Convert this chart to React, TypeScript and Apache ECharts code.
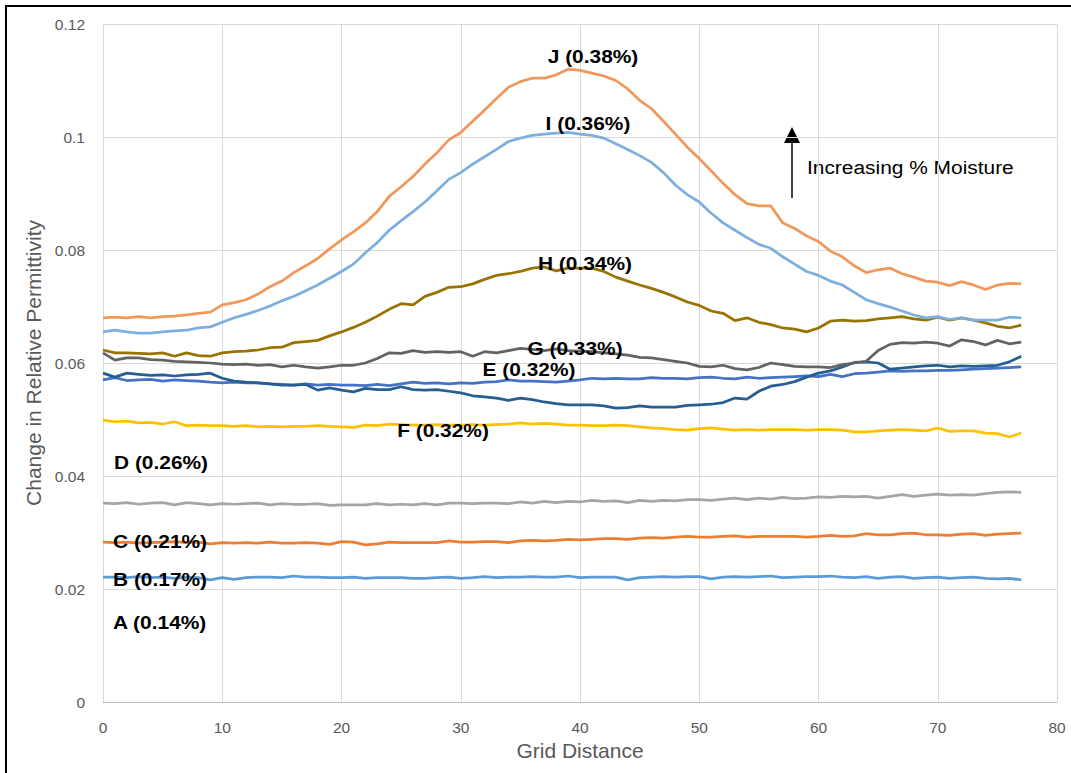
import React, { useEffect, useRef } from "react";
import * as echarts from "echarts";

const gridDistance: number[] = Array.from({ length: 78 }, (_, i) => i);

const seriesB = [0.0221,0.0221,0.022,0.0222,0.022,0.0221,0.0219,0.0221,0.022,0.0216,0.022,0.0217,0.022,0.0221,0.0221,0.022,0.0223,0.0221,0.0221,0.022,0.022,0.0221,0.0219,0.022,0.022,0.022,0.0219,0.0219,0.022,0.0221,0.0219,0.022,0.0222,0.022,0.0221,0.0221,0.0222,0.0221,0.0221,0.0223,0.022,0.0221,0.0221,0.0221,0.0216,0.022,0.0221,0.0222,0.0221,0.0222,0.0222,0.0218,0.0221,0.0222,0.0221,0.0222,0.0223,0.022,0.0221,0.0222,0.0222,0.0223,0.0221,0.022,0.0222,0.0219,0.0221,0.0222,0.0219,0.022,0.0221,0.0219,0.022,0.0221,0.0219,0.0218,0.0219,0.0216];
const seriesC = [0.0283,0.0282,0.0283,0.0281,0.0282,0.0283,0.0284,0.0282,0.0283,0.028,0.0282,0.0281,0.0282,0.0281,0.0283,0.0281,0.0281,0.0282,0.0281,0.0279,0.0284,0.0283,0.0278,0.028,0.0283,0.0282,0.0282,0.0282,0.0282,0.0285,0.0283,0.0283,0.0284,0.0284,0.0282,0.0285,0.0286,0.0285,0.0286,0.0288,0.0287,0.0288,0.0289,0.0289,0.0288,0.029,0.0291,0.029,0.0292,0.0293,0.0292,0.0292,0.0293,0.0294,0.0292,0.0293,0.0293,0.0293,0.0293,0.0292,0.0293,0.0295,0.0293,0.0294,0.0298,0.0296,0.0296,0.0298,0.0299,0.0296,0.0296,0.0295,0.0297,0.0298,0.0295,0.0297,0.0298,0.0299];
const seriesD = [0.0352,0.0351,0.0353,0.035,0.0352,0.0353,0.0349,0.0353,0.0351,0.0349,0.0351,0.035,0.0351,0.0352,0.0349,0.0351,0.035,0.035,0.0351,0.0348,0.0349,0.0349,0.0349,0.0351,0.0349,0.035,0.0349,0.0351,0.0349,0.0352,0.0352,0.0351,0.0352,0.0352,0.0351,0.0354,0.0352,0.0355,0.0353,0.0355,0.0354,0.0357,0.0355,0.0356,0.0353,0.0357,0.0355,0.0357,0.0356,0.0358,0.0358,0.0357,0.0359,0.0361,0.0358,0.0361,0.0359,0.0362,0.036,0.0361,0.0363,0.0362,0.0364,0.0363,0.0364,0.0361,0.0364,0.0367,0.0364,0.0366,0.0368,0.0366,0.0367,0.0366,0.0369,0.0371,0.0372,0.0371];
const seriesF = [0.0499,0.0496,0.0497,0.0494,0.0495,0.0492,0.0496,0.0489,0.049,0.0489,0.0489,0.0488,0.0489,0.0487,0.0488,0.0487,0.0488,0.0488,0.0489,0.0488,0.0487,0.0486,0.049,0.0489,0.0492,0.0491,0.049,0.049,0.0491,0.049,0.049,0.0491,0.049,0.0491,0.0492,0.0494,0.0492,0.0493,0.0492,0.049,0.049,0.0489,0.0489,0.049,0.0489,0.0487,0.0485,0.0484,0.0482,0.0481,0.0484,0.0485,0.0483,0.0481,0.0482,0.0481,0.0482,0.0482,0.0482,0.0481,0.0482,0.0482,0.0481,0.0478,0.0478,0.048,0.0481,0.0482,0.0481,0.048,0.0485,0.0479,0.048,0.048,0.0476,0.0475,0.0469,0.0476];
const seriesE = [0.057,0.0574,0.0569,0.057,0.0571,0.0568,0.057,0.0569,0.0568,0.0566,0.0565,0.0566,0.0565,0.0565,0.0563,0.0562,0.0561,0.0563,0.0561,0.0562,0.0561,0.0561,0.056,0.0562,0.056,0.0563,0.0566,0.0564,0.0565,0.0563,0.0565,0.0564,0.0566,0.0567,0.057,0.0568,0.0568,0.0567,0.0566,0.0568,0.057,0.0573,0.0572,0.0573,0.0572,0.0572,0.0574,0.0573,0.0573,0.0572,0.0574,0.0575,0.0573,0.0572,0.0575,0.0573,0.0574,0.0575,0.0576,0.0577,0.0576,0.058,0.0576,0.0581,0.0582,0.0584,0.0586,0.0585,0.0586,0.0586,0.0587,0.0587,0.0588,0.0589,0.059,0.0591,0.0592,0.0593];
const seriesDarkBlue = [0.0582,0.0575,0.0582,0.058,0.0578,0.0579,0.0577,0.0579,0.058,0.0582,0.0573,0.0568,0.0566,0.0565,0.0563,0.0561,0.0561,0.0562,0.0552,0.0556,0.0552,0.0549,0.0555,0.0553,0.0553,0.0558,0.0553,0.0552,0.0553,0.055,0.0547,0.0542,0.054,0.0538,0.0534,0.0538,0.0535,0.0531,0.0528,0.0526,0.0526,0.0526,0.0524,0.052,0.0521,0.0524,0.0522,0.0522,0.0522,0.0525,0.0526,0.0527,0.053,0.0538,0.0536,0.055,0.0559,0.0562,0.0567,0.0575,0.0582,0.0586,0.0593,0.0601,0.0602,0.06,0.0589,0.0591,0.0593,0.0595,0.0596,0.0593,0.0595,0.0594,0.0595,0.0596,0.0602,0.0612];
const seriesG = [0.0618,0.0605,0.0609,0.0609,0.0606,0.0605,0.0603,0.0602,0.0601,0.06,0.0598,0.0597,0.0598,0.0596,0.0597,0.0593,0.0596,0.0593,0.0591,0.0593,0.0596,0.0596,0.06,0.0608,0.0618,0.0617,0.0622,0.0619,0.062,0.0619,0.062,0.0612,0.062,0.0618,0.0622,0.0626,0.0624,0.0622,0.0625,0.0622,0.0621,0.062,0.0618,0.0616,0.0614,0.061,0.0609,0.0606,0.0603,0.06,0.0594,0.0593,0.0596,0.059,0.0588,0.0592,0.06,0.0597,0.0594,0.0593,0.0593,0.0592,0.0597,0.06,0.0603,0.0622,0.0633,0.0636,0.0635,0.0637,0.0635,0.063,0.0641,0.0638,0.0632,0.064,0.0634,0.0637];
const seriesH = [0.0623,0.0618,0.0618,0.0617,0.0616,0.0618,0.0612,0.0618,0.0613,0.0612,0.0618,0.062,0.0621,0.0623,0.0627,0.0628,0.0636,0.0638,0.064,0.0648,0.0655,0.0663,0.0672,0.0683,0.0695,0.0705,0.0703,0.0718,0.0725,0.0734,0.0735,0.074,0.0748,0.0755,0.0758,0.0762,0.0768,0.077,0.0763,0.0768,0.0768,0.0768,0.0762,0.0752,0.0745,0.0738,0.0732,0.0725,0.0717,0.0708,0.0702,0.0692,0.0688,0.0675,0.068,0.0672,0.0668,0.0662,0.066,0.0655,0.0662,0.0674,0.0676,0.0674,0.0675,0.0678,0.068,0.0682,0.0678,0.0676,0.0681,0.0676,0.068,0.0676,0.0671,0.0665,0.0662,0.0667];
const seriesI = [0.0655,0.0658,0.0655,0.0653,0.0653,0.0655,0.0657,0.0658,0.0662,0.0664,0.0672,0.068,0.0686,0.0693,0.0701,0.071,0.0718,0.0728,0.0738,0.075,0.0762,0.0775,0.0795,0.0813,0.0835,0.0852,0.0868,0.0885,0.0905,0.0925,0.0937,0.0952,0.0965,0.0978,0.0992,0.0998,0.1003,0.1005,0.1007,0.1008,0.1005,0.1003,0.0998,0.0988,0.0978,0.0967,0.0955,0.0937,0.0915,0.0898,0.0885,0.0865,0.0848,0.0835,0.0822,0.081,0.0803,0.0788,0.0775,0.0762,0.0755,0.0745,0.0738,0.0725,0.0712,0.0705,0.0699,0.0692,0.0685,0.068,0.0682,0.0677,0.068,0.0676,0.0676,0.0676,0.0681,0.068];
const seriesJ = [0.068,0.0681,0.068,0.0682,0.068,0.0682,0.0683,0.0685,0.0688,0.069,0.0703,0.0707,0.0712,0.0722,0.0735,0.0745,0.076,0.0772,0.0785,0.0802,0.0818,0.0832,0.0848,0.0868,0.0895,0.0912,0.093,0.0952,0.0972,0.0995,0.1008,0.1028,0.1048,0.1068,0.1088,0.1098,0.1104,0.1104,0.111,0.112,0.1118,0.1113,0.1108,0.11,0.1085,0.1065,0.105,0.1028,0.1005,0.0982,0.0962,0.094,0.0918,0.0898,0.0882,0.0878,0.0878,0.0848,0.0838,0.0825,0.0815,0.0798,0.0788,0.0772,0.076,0.0765,0.0768,0.0758,0.0752,0.0745,0.0743,0.0737,0.0744,0.0738,0.073,0.0738,0.0741,0.074];

const seriesNames = ["B", "C", "D", "F", "E", "E2", "G", "H", "I", "J"];
const seriesValues = [seriesB, seriesC, seriesD, seriesF, seriesE, seriesDarkBlue, seriesG, seriesH, seriesI, seriesJ];
const seriesColors = ["#5B9BD5", "#ED7D31", "#A5A5A5", "#FFC000", "#4472C4", "#255E91", "#636363", "#997300", "#7CAFDD", "#F1975A"];

const curveLabels = ["J (0.38%)", "I (0.36%)", "H (0.34%)", "G (0.33%)", "E (0.32%)", "F (0.32%)", "D (0.26%)", "C (0.21%)", "B (0.17%)", "A (0.14%)"];
const annotationText = "Increasing % Moisture";

export default function App() {
  const ref = useRef<HTMLDivElement>(null);
  useEffect(() => {
    if (!ref.current) return;
    const chart = echarts.init(ref.current, null, { renderer: "svg" });
    const labelPos: [number, number, string][] = [
      [593, 56, "center"],
      [588, 123, "center"],
      [585, 263, "center"],
      [575, 348, "center"],
      [529, 369, "center"],
      [443, 430, "center"],
      [114, 462, "left"],
      [113, 541, "left"],
      [113, 579, "left"],
      [113, 622, "left"],
    ];
    const labelGraphics = curveLabels.map((t, i) => ({
      type: "text",
      x: labelPos[i][0],
      y: labelPos[i][1],
      scaleX: 1.1,
      z: 100,
      style: {
        text: t,
        fill: "#000",
        font: "bold 19px 'Liberation Sans', Arial, sans-serif",
        align: labelPos[i][2],
        verticalAlign: "middle",
      },
    }));
    chart.setOption({
      animation: false,
      backgroundColor: "#fff",
      grid: { left: 103, top: 24, right: 14, bottom: 71, containLabel: false },
      xAxis: {
        type: "value",
        min: 0,
        max: 80,
        interval: 10,
        name: "Grid Distance",
        nameLocation: "middle",
        nameGap: 35,
        nameTextStyle: { color: "#595959", fontSize: 21, fontFamily: "'Liberation Sans', Arial, sans-serif" },
        axisLine: { show: true, lineStyle: { color: "#bfbfbf", width: 1 } },
        axisTick: { show: false },
        axisLabel: { color: "#595959", fontSize: 15.5, margin: 17, fontFamily: "'Liberation Sans', Arial, sans-serif" },
        splitLine: { show: true, lineStyle: { color: "#d9d9d9", width: 1 } },
      },
      yAxis: {
        type: "value",
        min: 0,
        max: 0.12,
        interval: 0.02,
        name: "Change in Relative Permittivity",
        nameLocation: "middle",
        nameGap: 56,
        nameTextStyle: { color: "#595959", fontSize: 21, fontFamily: "'Liberation Sans', Arial, sans-serif" },
        axisLine: { show: false },
        axisTick: { show: false },
        axisLabel: { color: "#595959", fontSize: 15.5, margin: 18, fontFamily: "'Liberation Sans', Arial, sans-serif" },
        splitLine: { show: true, lineStyle: { color: "#d9d9d9", width: 1 } },
      },
      series: seriesValues.map((vals, i) => ({
        name: seriesNames[i],
        type: "line",
        data: vals.map((v, j) => [gridDistance[j], v]),
        showSymbol: false,
        symbol: "none",
        lineStyle: { color: seriesColors[i], width: 2.75 },
        itemStyle: { color: seriesColors[i] },
      })),
      graphic: [
        {
          type: "rect",
          shape: { x: 6, y: 6, width: 1100, height: 800 },
          style: { fill: "none", stroke: "#000", lineWidth: 2 },
          silent: true,
        },
        {
          type: "line",
          shape: { x1: 792, y1: 198, x2: 792, y2: 140 },
          style: { stroke: "#000", lineWidth: 1.5 },
        },
        {
          type: "polygon",
          shape: { points: [[792, 127], [784, 143], [800, 143]] },
          style: { fill: "#000" },
        },
        {
          type: "text",
          x: 807,
          y: 167,
          scaleX: 1.1,
          style: {
            text: annotationText,
            fill: "#000",
            font: "19px 'Liberation Sans', Arial, sans-serif",
            align: "left",
            verticalAlign: "middle",
          },
        },
        ...labelGraphics,
      ],
    });
    return () => chart.dispose();
  }, []);
  return (
    <div
      ref={ref}
      style={{ position: "fixed", left: 0, top: 0, width: 1071, height: 773, background: "#fff" }}
    />
  );
}
